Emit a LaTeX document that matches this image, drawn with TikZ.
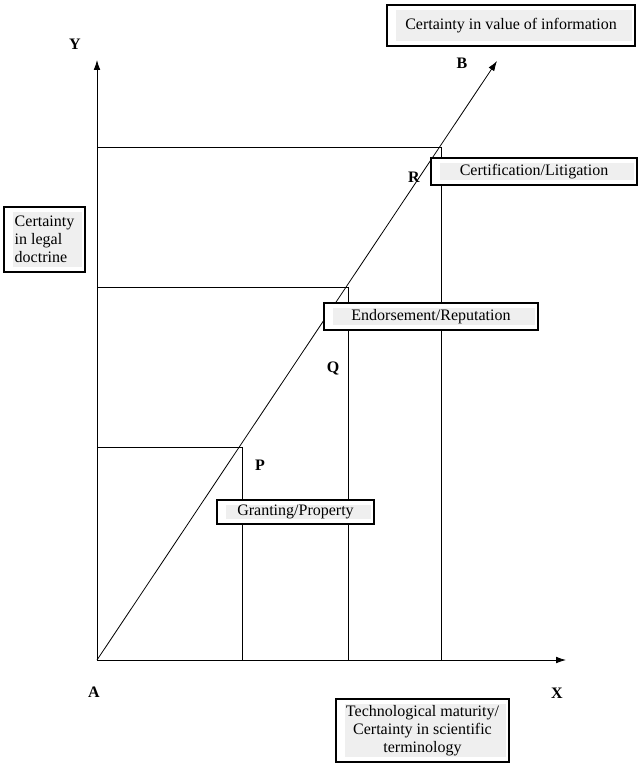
\documentclass[tikz,border=0pt]{standalone}
\usepackage{fontspec}
\setmainfont{Liberation Serif}
\usetikzlibrary{arrows.meta}
\definecolor{boxgray}{RGB}{239,239,239}

\begin{document}
\begin{tikzpicture}[x=0.75pt, y=-0.75pt, line width=0.6pt,
    every node/.style = {font=\fontsize{12}{13.5}\selectfont},
    tag/.style = {font=\fontsize{12}{13.5}\selectfont\bfseries},
    frame/.style = {draw, line width=0.8pt, fill=white, inner sep=0pt,
        path picture={\fill[boxgray] ([shift={(6.5pt,-4pt)}]path picture bounding box.north west)
            rectangle ([shift={(-2pt,4pt)}]path picture bounding box.south east);}},
    axis/.style = {-{Latex[length=7.5pt,width=5pt]}}]
    \useasboundingbox (0,0) rectangle (638,767);
    % axes and line of certainty
    \coordinate (A) at (97,660);
    \coordinate (top) at (97,60);
    \coordinate (right) at (566,660);
    \coordinate (end) at (497,61);
    \coordinate (p) at (242,447);
    \coordinate (q) at (348,287);
    \coordinate (r) at (441,147);
    \draw[axis] (A) -- (top);
    \draw[axis] (A) -- (right);
    \draw[axis] (A) -- (end);
    \draw (A |- p) -- (p) -- (p |- A);
    \draw (A |- q) -- (q) -- (q |- A);
    \draw (A |- r) -- (r) -- (r |- A);
    % point labels
    \node[tag] (Y) at (75,44) {Y};
    \node[tag] (X) at (557,693) {X};
    \node[tag] (Alab) at (94,692) {A};
    \node[tag] (B) at (462,63) {B};
    \node[tag] (R) at (414,177) {R};
    \node[tag] (Q) at (333,368) {Q};
    \node[tag] (P) at (260,465) {P};
    % boxes
    \node[frame, minimum width=186pt, minimum height=30.75pt] (value) at (511,25.5) {Certainty in value of information};
    \node[frame, minimum width=154.5pt, minimum height=20.25pt] (cert) at (534,171.5) {Certification/Litigation};
    \node[frame, minimum width=160.5pt, minimum height=20.25pt] (endorse) at (431,316.5) {Endorsement/Reputation};
    \node[frame, minimum width=117.75pt, minimum height=18pt] (grant) at (295.5,512) {Granting/Property};
    \node[frame, minimum width=60.75pt, minimum height=48.75pt, align=left] (legal) at (44.5,239.5) {Certainty\\in legal\\doctrine};
    \node[frame, minimum width=129.75pt, minimum height=47.25pt, align=center] (tech) at (422.5,730.5) {Technological maturity/\\Certainty in scientific\\terminology};
\end{tikzpicture}
\end{document}
